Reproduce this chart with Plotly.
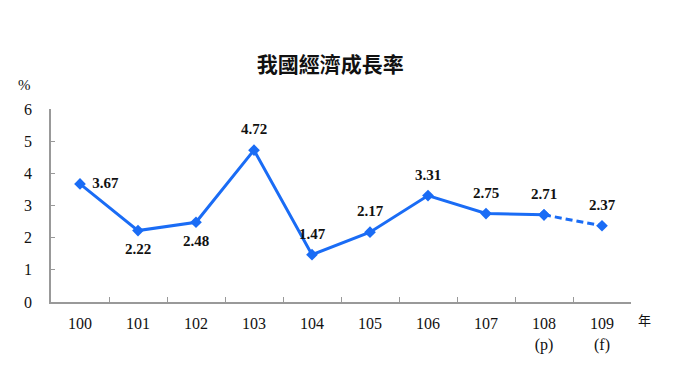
import plotly.graph_objects as go

years = ["100", "101", "102", "103", "104", "105", "106", "107", "108", "109"]
tick_text = ["100", "101", "102", "103", "104", "105", "106", "107", "108<br>(p)", "109<br>(f)"]
growth = [3.67, 2.22, 2.48, 4.72, 1.47, 2.17, 3.31, 2.75, 2.71, 2.37]
label_pos = ["middle right", "bottom center", "bottom center", "top center", "top center",
             "top center", "top center", "top center", "top center", "top center"]

blue = "#1a6cf5"
fig = go.Figure()
fig.add_trace(go.Scatter(
    x=years[:9], y=growth[:9], mode="lines+markers",
    line=dict(color=blue, width=3), marker=dict(symbol="diamond", size=9, color=blue),
    showlegend=False, hoverinfo="skip"))
fig.add_trace(go.Scatter(
    x=years[8:], y=growth[8:], mode="lines+markers",
    line=dict(color=blue, width=3, dash="7px,4px"), marker=dict(symbol="diamond", size=9, color=blue),
    showlegend=False, hoverinfo="skip"))
fig.add_trace(go.Scatter(
    x=years, y=growth, mode="markers+text", text=[f"{v:.2f}" for v in growth],
    textposition=label_pos,
    marker=dict(size=18, color="rgba(0,0,0,0)"),
    textfont=dict(family="Liberation Serif", size=15, color="#111"),
    texttemplate="<b>%{text}</b>", showlegend=False, hoverinfo="skip"))

fig.update_layout(
    width=680, height=383,
    margin=dict(l=43, r=57, t=101, b=89),
    plot_bgcolor="white", paper_bgcolor="white",
    font=dict(family="Liberation Serif", size=16, color="#111"),
    title=dict(text="<b>我國經濟成長率</b>", xref="container", x=0.474, xanchor="center",
               yref="container", y=0.851, yanchor="middle",
               font=dict(family="Noto Sans CJK TC", size=21, color="#111")),
)
fig.update_xaxes(
    type="category", categoryorder="array", categoryarray=years,
    tickmode="array", tickvals=years, ticktext=tick_text,
    tickson="boundaries", ticks="inside", ticklen=5, tickcolor="#999",
    showline=True, linecolor="#999", linewidth=1.5, showgrid=False,
    range=[-0.5, 9.5], ticklabelstandoff=6,
)
fig.update_yaxes(
    range=[0, 6], dtick=1, ticks="inside", ticklen=4, tickcolor="#999",
    showline=True, linecolor="#999", linewidth=1.5, showgrid=False, zeroline=False,
    ticklabelstandoff=14,
)
fig.add_annotation(text="%", xref="paper", yref="paper", x=-0.031, y=1.124, showarrow=False,
                   xanchor="right", yanchor="middle",
                   font=dict(family="Liberation Serif", size=15, color="#111"))
fig.add_annotation(text="年", xref="paper", yref="paper", x=1.008, y=-0.093, showarrow=False,
                   xanchor="left", yanchor="middle",
                   font=dict(family="Noto Sans CJK TC", size=13, color="#111"))
fig.write_html("out.html")
